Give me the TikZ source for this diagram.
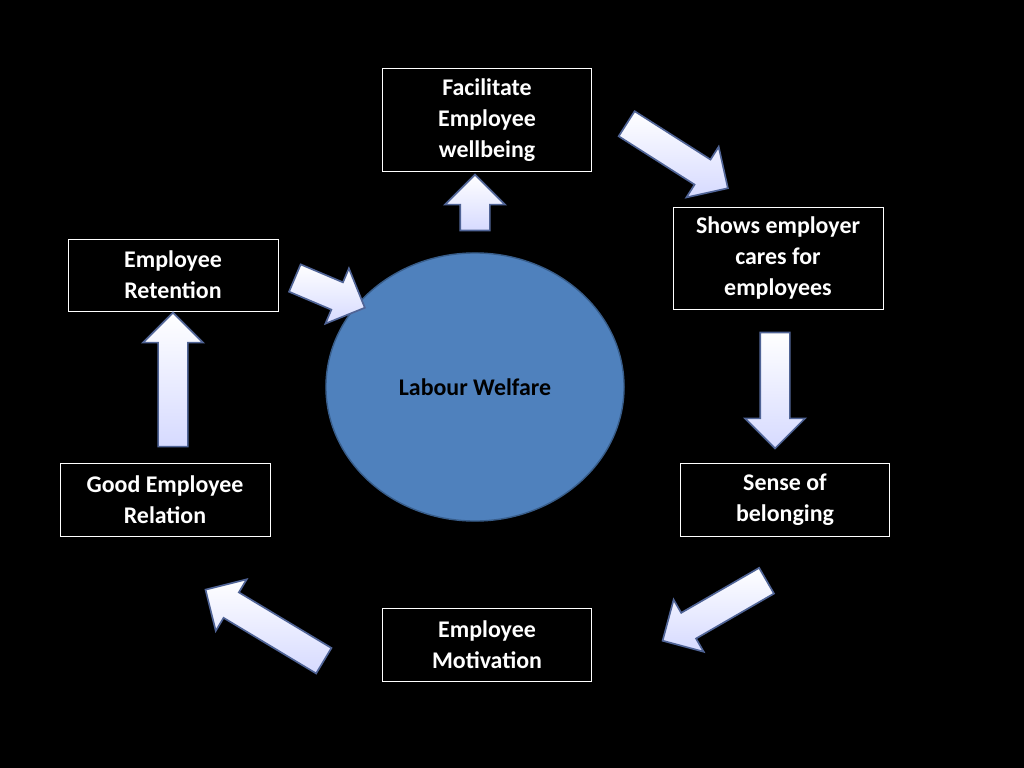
\documentclass[tikz,border=0pt]{standalone}
\usepackage{fontspec}
\setmainfont{Carlito}
\usetikzlibrary{shapes.arrows,shapes.geometric}
\definecolor{welfare}{RGB}{79,129,189}
\definecolor{welfareline}{RGB}{56,93,138}
\definecolor{arrowfill}{RGB}{214,218,255}
\definecolor{arrowline}{RGB}{80,100,150}
\begin{document}
\begin{tikzpicture}[x=0.025cm,y=-0.025cm,
  stage/.style={rectangle, draw=white, fill=black, text=white, font=\fontsize{17}{22}\selectfont\bfseries, align=center, inner sep=0pt},
  blockarrow/.style={single arrow, draw=arrowline, line width=1.2pt, top color=white, bottom color=arrowfill, inner xsep=0pt, inner ysep=0.35cm, single arrow head extend=0.38cm, single arrow head indent=0pt}]

 \fill[black] (0,0) rectangle (1024,768);

 \node [ellipse, draw=welfareline, line width=1pt, fill=welfare, minimum width=7.45cm, minimum height=6.7cm, font=\fontsize{17}{22}\selectfont\bfseries] (welfare) at (475,387) {Labour Welfare};

 \node [stage, minimum width=5.22cm, minimum height=2.57cm] (wellbeing)  at (487,120) {Facilitate\\Employee\\wellbeing};
 \node [stage, minimum width=5.25cm, minimum height=2.55cm] (cares)      at (778,258) {Shows employer\\cares for\\employees};
 \node [stage, minimum width=5.22cm, minimum height=1.82cm] (belonging)  at (785,500) {Sense of\\belonging};
 \node [stage, minimum width=5.22cm, minimum height=1.82cm] (motivation) at (487,645) {Employee\\Motivation};
 \node [stage, minimum width=5.25cm, minimum height=1.82cm] (relation)   at (165,500) {Good Employee\\Relation};
 \node [stage, minimum width=5.25cm, minimum height=1.8cm]  (retention)  at (173,275) {Employee\\Retention};

 \node [blockarrow, minimum height=1.4cm, rotate=90]  (up1)    at (475,210) {};
 \node [blockarrow, minimum height=3.0cm, rotate=-32.5] (diag1) at (671,152) {};
 \node [blockarrow, minimum height=2.9cm, rotate=-90] (down1)  at (775,383) {};
 \node [blockarrow, minimum height=3.0cm, rotate=210] (diag2)  at (721,607) {};
 \node [blockarrow, minimum height=3.45cm, rotate=149] (diag3) at (271,629) {};
 \node [blockarrow, minimum height=3.35cm, rotate=90] (up2)    at (173,387) {};
 \node [blockarrow, minimum height=1.9cm, rotate=-23] (diag4)  at (323,290) {};

\end{tikzpicture}
\end{document}
